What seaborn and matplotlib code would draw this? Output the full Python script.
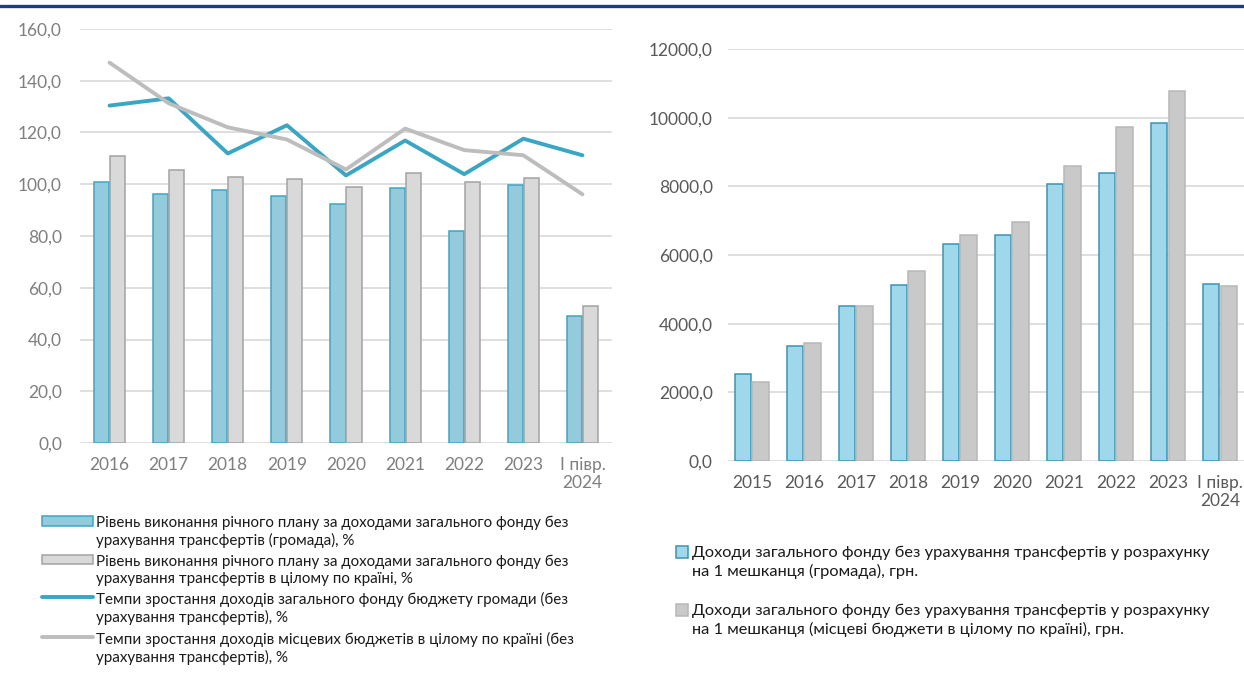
import numpy as np
import pandas as pd
import seaborn as sns
import matplotlib
matplotlib.use('Agg')
import matplotlib.pyplot as plt
from matplotlib.patches import Patch
from matplotlib.lines import Line2D
from matplotlib.ticker import FuncFormatter

##################################################################
# data
periods_left = ['2016', '2017', '2018', '2019', '2020', '2021', '2022', '2023', 'I півр.\n2024']
plan_hromada = [100.9, 96.1, 97.8, 95.4, 92.3, 98.6, 82.0, 99.8, 49.0]
plan_country = [110.8, 105.6, 102.9, 102.1, 99.0, 104.5, 100.9, 102.5, 52.9]
growth_hromada = [130.4, 133.2, 111.9, 122.8, 103.4, 116.9, 103.9, 117.6, 111.2]
growth_country = [147.0, 131.3, 122.0, 117.3, 105.7, 121.5, 113.2, 111.2, 96.1]

periods_right = ['2015', '2016', '2017', '2018', '2019', '2020', '2021', '2022', '2023', 'I півр.\n2024']
per_capita_hromada = [2530, 3364, 4527, 5119, 6331, 6583, 8078, 8388, 9850, 5148]
per_capita_country = [2307, 3432, 4518, 5545, 6583, 6961, 8592, 9718, 10777, 5099]

lab_plan_h = 'Рівень виконання річного плану за доходами загального фонду без\nурахування трансфертів (громада), %'
lab_plan_c = 'Рівень виконання річного плану за доходами загального фонду без\nурахування трансфертів в цілому по країні, %'
lab_gr_h = 'Темпи зростання доходів загального фонду бюджету громади (без\nурахування трансфертів), %'
lab_gr_c = 'Темпи зростання доходів місцевих бюджетів в цілому по країні (без\nурахування трансфертів), %'
lab_pc_h = 'Доходи загального фонду без урахування трансфертів у розрахунку\nна 1 мешканця (громада), грн.'
lab_pc_c = 'Доходи загального фонду без урахування трансфертів у розрахунку\nна 1 мешканця (місцеві бюджети в цілому по країні), грн.'
##################################################################
sns.set_style('white')
plt.rcParams['font.family'] = ['Lato', 'DejaVu Sans']

blue_l, blue_l_edge = '#93cbdd', '#3fa5c4'
gray_l, gray_l_edge = '#d9d9d9', '#a3a3a3'
blue_r, blue_r_edge = '#9fd8eb', '#3c93b3'
gray_r, gray_r_edge = '#c9c9c9', '#b8b8b8'
line_blue, line_gray = '#3aa6c3', '#bdbdbd'

df_bars_l = pd.DataFrame({
    'period': periods_left * 2,
    'value': plan_hromada + plan_country,
    'series': ['h'] * len(periods_left) + ['c'] * len(periods_left)})
df_lines_l = pd.DataFrame({
    'period': periods_left * 2,
    'value': growth_hromada + growth_country,
    'series': ['h'] * len(periods_left) + ['c'] * len(periods_left)})
df_bars_r = pd.DataFrame({
    'period': periods_right * 2,
    'value': per_capita_hromada + per_capita_country,
    'series': ['h'] * len(periods_right) + ['c'] * len(periods_right)})

fig = plt.figure(figsize=(12.44, 6.74), dpi=100)
ax1 = fig.add_axes([80 / 1244, 1 - 443 / 674, 532 / 1244, 414 / 674])
ax2 = fig.add_axes([728 / 1244, 1 - 461 / 674, 518 / 1244, 412 / 674])

fmt = FuncFormatter(lambda v, p: ('%.1f' % v).replace('.', ','))

#################### left chart
sns.barplot(data=df_bars_l, x='period', y='value', hue='series', order=periods_left,
            hue_order=['h', 'c'], palette=[blue_l, gray_l], width=0.54, gap=0.05,
            errorbar=None, legend=False, ax=ax1, saturation=1)
for cont, ec in zip(ax1.containers, [blue_l_edge, gray_l_edge]):
    for p in cont:
        p.set_edgecolor(ec)
        p.set_linewidth(1.1)
sns.pointplot(data=df_lines_l, x='period', y='value', hue='series', order=periods_left,
              hue_order=['h', 'c'], palette=[line_blue, line_gray], markers='',
              linestyles='-', linewidth=2.8, errorbar=None, legend=False, ax=ax1)
ax1.set_ylim(0, 160)
ax1.set_yticks(np.arange(0, 161, 20))
ax1.set_xlim(-0.5, 8.5)
ax1.yaxis.set_major_formatter(fmt)
ax1.tick_params(axis='y', length=0, pad=13, labelsize=12.5, labelcolor='#7f7f7f')
ax1.tick_params(axis='x', length=0, pad=10, labelsize=12.5, labelcolor='#7f7f7f')

#################### right chart
sns.barplot(data=df_bars_r, x='period', y='value', hue='series', order=periods_right,
            hue_order=['h', 'c'], palette=[blue_r, gray_r], width=0.66, gap=0.06,
            errorbar=None, legend=False, ax=ax2, saturation=1)
for cont, ec in zip(ax2.containers, [blue_r_edge, gray_r_edge]):
    for p in cont:
        p.set_edgecolor(ec)
        p.set_linewidth(1.1)
ax2.set_ylim(0, 12000)
ax2.set_yticks(np.arange(0, 12001, 2000))
ax2.set_xlim(-0.46, 9.5)
ax2.yaxis.set_major_formatter(fmt)
ax2.tick_params(axis='y', length=0, pad=11, labelsize=12.5, labelcolor='#595959')
ax2.tick_params(axis='x', length=0, pad=10, labelsize=12.5, labelcolor='#595959')

for ax in [ax1, ax2]:
    ax.set_xlabel('')
    ax.set_ylabel('')
    ax.yaxis.grid(True, color='#d9d9d9', lw=1.2)
    ax.set_axisbelow(True)
    for s in ax.spines.values():
        s.set_visible(False)

#################### legends
def top_align(leg, spacing):
    # put the handle next to the first line of each two-line label
    for t in leg.get_texts():
        t.set_linespacing(spacing)
    for col in leg._legend_handle_box.get_children():
        for row in col.get_children():
            row.align = 'top'

h_left = [Patch(facecolor=blue_l, edgecolor=blue_l_edge, lw=1.1),
          Patch(facecolor=gray_l, edgecolor=gray_l_edge, lw=1.1),
          Line2D([], [], color=line_blue, lw=2.8),
          Line2D([], [], color=line_gray, lw=2.8)]
leg1 = fig.legend(h_left, [lab_plan_h, lab_plan_c, lab_gr_h, lab_gr_c], loc='upper left',
                  bbox_to_anchor=(42 / 1244, 1 - 516 / 674), frameon=False, fontsize=10.9,
                  handlelength=3.4, handleheight=0.6, handletextpad=0.18, labelspacing=0.42,
                  borderpad=0, borderaxespad=0, labelcolor='#1a1a1a')
top_align(leg1, 1.25)

h_right = [Patch(facecolor=blue_r, edgecolor=blue_r_edge, lw=1.1),
           Patch(facecolor=gray_r, edgecolor=gray_r_edge, lw=1.1)]
leg2 = fig.legend(h_right, [lab_pc_h, lab_pc_c], loc='upper left',
                  bbox_to_anchor=(676 / 1244, 1 - 546 / 674), frameon=False, fontsize=11.8,
                  handlelength=0.75, handleheight=0.75, handletextpad=0.25, labelspacing=1.5,
                  borderpad=0, borderaxespad=0, labelcolor='#1a1a1a')
top_align(leg2, 1.3)

# dark rule along the top of the figure
fig.add_artist(Line2D([0, 1], [1 - 6 / 674, 1 - 6 / 674], color='#1f3d79', lw=2.4,
                      transform=fig.transFigure))

fig.savefig('out.png', dpi=100)
